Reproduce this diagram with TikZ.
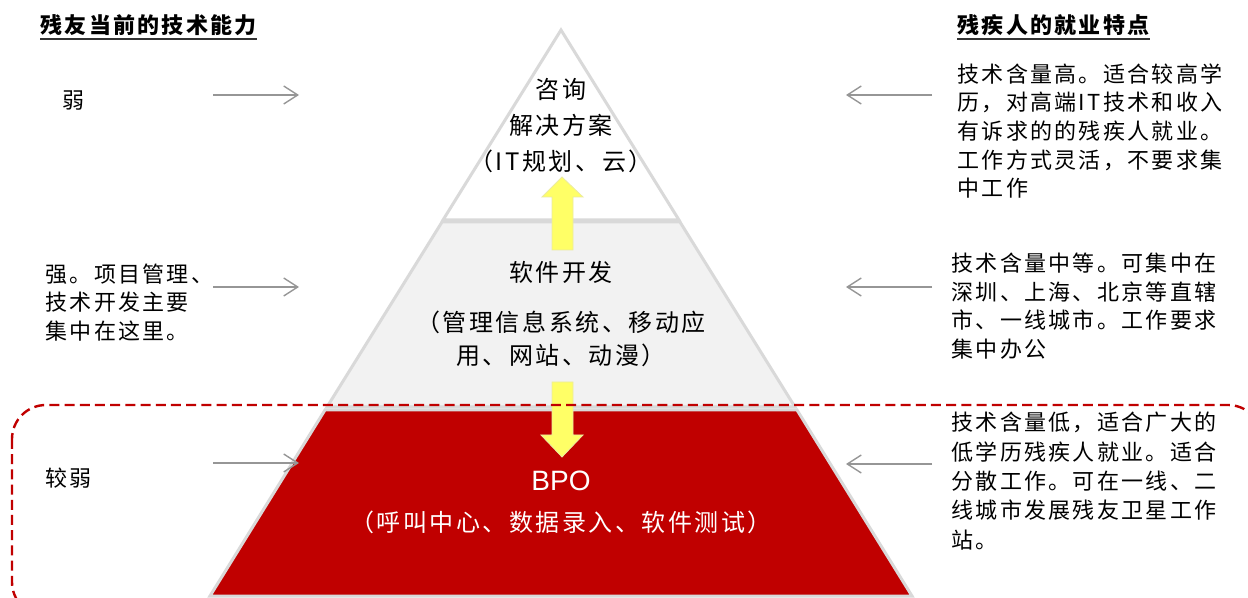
\documentclass[tikz,border=0pt]{standalone}
\usepackage{fontspec}
\setmainfont{Liberation Sans}
\newfontfamily\cjk[LetterSpace=10.5]{Noto Sans CJK SC}
\usetikzlibrary{arrows.meta}
\definecolor{tierred}{RGB}{192,0,0}
\definecolor{tiergray}{RGB}{242,242,242}
\definecolor{tieredge}{RGB}{217,217,217}
\definecolor{arrowyellow}{RGB}{255,255,102}
\definecolor{yedge}{RGB}{235,235,160}
\definecolor{pointer}{RGB}{150,150,150}
\tikzset{
  tier/.style={draw=tieredge, line width=1.5pt, line join=miter},
  yarrow/.style={fill=arrowyellow, draw=yedge, line width=0.4pt},
  pointerarrow/.style={draw=pointer, line width=0.7pt, -{Straight Barb[length=7pt,width=9pt,line width=0.7pt]}},
  sidetext/.style={inner sep=0pt, align=left, anchor=west, font=\cjk\fontsize{11}{14.3}\selectfont},
  lefttext/.style={inner sep=0pt, align=left, anchor=west, font=\cjk\fontsize{11}{14.25}\selectfont},
  titletext/.style={inner sep=0pt, anchor=west, font=\cjk\bfseries\fontsize{11}{14}\selectfont},
  pyrtext/.style={inner sep=0pt, align=center, anchor=center, font=\cjk\fontsize{12}{18}\selectfont},
  dashedframe/.style={draw=tierred, line width=1.2pt, dash pattern=on 5pt off 2.6pt, rounded corners=17pt},
}
\begin{document}
\begin{tikzpicture}[x=0.5pt,y=-0.5pt]
\useasboundingbox (0,0) rectangle (1248,598);
\begin{scope}
\clip (0,0) rectangle (1248,598);
% pyramid tiers
\draw[tier, fill=white] (561,30) -- (679,220) -- (443,220) -- cycle;
\draw[tier, fill=tiergray] (442,222) -- (680,222) -- (795,407) -- (327,407) -- cycle;
\draw[tier, fill=tierred] (325,410) -- (797,410) -- (912,596) -- (210,596) -- cycle;
% yellow arrows
\draw[yarrow] (552,250) -- (552,197) -- (542,197) -- (562,177) -- (583,197) -- (573,197) -- (573,250) -- cycle;
\draw[yarrow] (552,382) -- (573,382) -- (573,435) -- (583,435) -- (562,457) -- (541,435) -- (552,435) -- cycle;
% dashed frame
\draw[dashedframe] (12,405) rectangle (1262,616);
\end{scope}

% titles
\node[titletext] (t1) at (40,25) {残友当前的技术能力};
\draw[line width=0.7pt, black!80] ([yshift=-1.5pt]t1.south west) -- ([yshift=-1.5pt]t1.south east);
\node[titletext] (t2) at (957,25) {残疾人的就业特点};
\draw[line width=0.7pt, black!80] ([yshift=-1.5pt]t2.south west) -- ([yshift=-1.5pt]t2.south east);

% left texts
\node[lefttext] (l1) at (62,101) {弱};
\node[lefttext] (l2) at (45,302.5) {强。项目管理、\\技术开发主要\\集中在这里。};
\node[lefttext] (l3) at (45,478) {较弱};

% right texts
\node[sidetext] (r1) at (957,131) {技术含量高。适合较高学\\历，对高端IT技术和收入\\有诉求的的残疾人就业。\\工作方式灵活，不要求集\\中工作};
\node[sidetext] (r2) at (951,306) {技术含量中等。可集中在\\深圳、上海、北京等直辖\\市、一线城市。工作要求\\集中办公};
\node[sidetext, font=\cjk\fontsize{11}{14.7}\selectfont] (r3) at (951,481) {技术含量低，适合广大的\\低学历残疾人就业。适合\\分散工作。可在一线、二\\线城市发展残友卫星工作\\站。};

% pyramid texts
\node[pyrtext] (p1) at (561,126) {咨询\\解决方案\\（IT规划、云）};
\node[pyrtext] (p2) at (561,272) {软件开发};
\node[pyrtext, font=\cjk\fontsize{12}{16.5}\selectfont] (p3) at (561,338.5) {（管理信息系统、移动应\\用、网站、动漫）};
\node[inner sep=0pt, anchor=center, text=white, font=\fontsize{14}{16}\selectfont] (p4) at (561,481) {BPO};
\node[pyrtext, text=white] (p5) at (561,522) {（呼叫中心、数据录入、软件测试）};

% pointer arrows
\coordinate (la1s) at (213,95);  \coordinate (la1e) at (299,95);
\coordinate (la2s) at (213,287); \coordinate (la2e) at (299,287);
\coordinate (la3s) at (213,463); \coordinate (la3e) at (299,463);
\coordinate (ra1s) at (932,95);  \coordinate (ra1e) at (846,95);
\coordinate (ra2s) at (932,287); \coordinate (ra2e) at (846,287);
\coordinate (ra3s) at (932,464); \coordinate (ra3e) at (846,464);
\draw[pointerarrow] (la1s) -- (la1e);
\draw[pointerarrow] (la2s) -- (la2e);
\draw[pointerarrow] (la3s) -- (la3e);
\draw[pointerarrow] (ra1s) -- (ra1e);
\draw[pointerarrow] (ra2s) -- (ra2e);
\draw[pointerarrow] (ra3s) -- (ra3e);
\end{tikzpicture}
\end{document}
